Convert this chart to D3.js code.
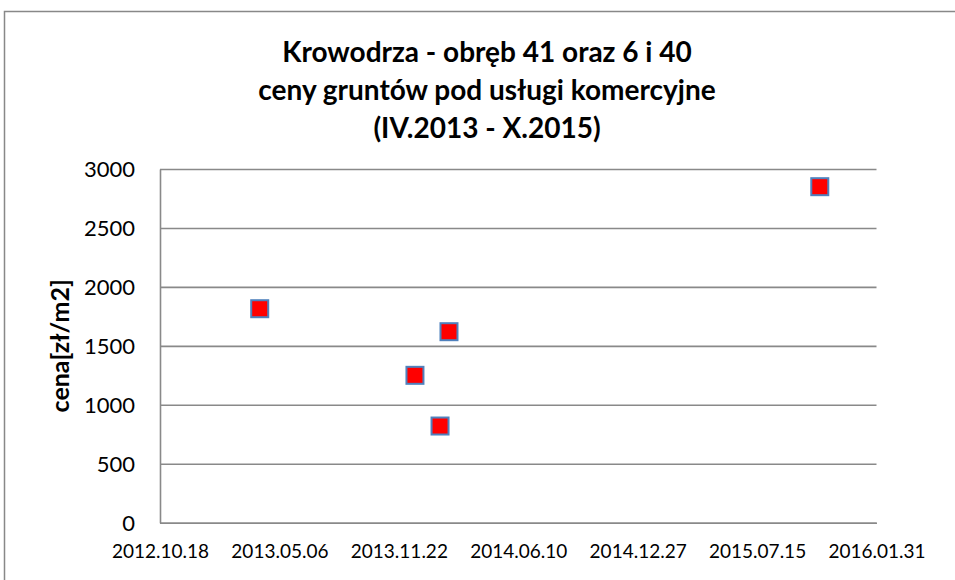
<!DOCTYPE html>
<html>
<head>
<meta charset="utf-8">
<script src="https://cdn.jsdelivr.net/npm/d3@7"></script>
<style>
    body { margin: 0; background: #fff; }
    .axis-label { font-family: Lato, "Open Sans", sans-serif; fill: #000; }
    .title { font-family: Lato, "Open Sans", sans-serif; font-weight: bold; fill: #000; }
</style>
</head>
<body>
<div id="chart-area"></div>
<script>

// Data (dates, prices in zl/m2)
var saleDates = ["2013.04.03", "2013.12.19", "2014.01.30", "2014.02.14", "2015.10.28"];
var salePrices = [1815, 1250, 820, 1620, 2850];

// Axis ticks
var xTickLabels = ["2012.10.18", "2013.05.06", "2013.11.22", "2014.06.10", "2014.12.27", "2015.07.15", "2016.01.31"];
var yTickValues = [0, 500, 1000, 1500, 2000, 2500, 3000];

var titleLines = ["Krowodrza - obręb 41 oraz 6 i 40", "ceny gruntów pod usługi komercyjne", "(IV.2013 - X.2015)"];
var yAxisTitle = "cena[zł/m2]";


/*
 * ScatterPlot - Object constructor function
 * @param _parentElement 	-- the HTML element in which to draw the visualization
 */

ScatterPlot = function(_parentElement){
    this.parentElement = _parentElement;
    this.initVis();
};

ScatterPlot.prototype.initVis = function(){
    var vis = this;

    vis.margin = { top: 169, right: 78.5, bottom: 57.3, left: 160 };
    vis.width = 955 - vis.margin.left - vis.margin.right;
    vis.height = 580 - vis.margin.top - vis.margin.bottom;

    vis.root = d3.select("#" + vis.parentElement).append("svg")
        .attr("width", 955)
        .attr("height", 580);

    // Chart border (runs off the right and bottom edge)
    vis.root.append("rect")
        .attr("x", 4.5)
        .attr("y", 11.5)
        .attr("width", 1000)
        .attr("height", 700)
        .attr("fill", "none")
        .attr("stroke", "#888")
        .attr("stroke-width", 1.5);

    // Title
    vis.root.append("text")
        .attr("class", "title")
        .attr("text-anchor", "middle")
        .style("font-size", "28px")
        .selectAll("tspan")
        .data(titleLines)
        .enter()
        .append("tspan")
        .attr("x", 487)
        .attr("y", function(d, i) { return 62 + i * 38; })
        .text(function(d) { return d; });

    vis.svg = vis.root.append("g")
        .attr("transform", "translate(" + vis.margin.left + "," + vis.margin.top + ")");

    vis.parseDate = d3.utcParse("%Y.%m.%d");

    vis.x = d3.scaleUtc()
        .domain([vis.parseDate(xTickLabels[0]), vis.parseDate(xTickLabels[xTickLabels.length - 1])])
        .range([0, vis.width]);
    vis.y = d3.scaleLinear()
        .domain([0, 3000])
        .range([vis.height, 0]);

    // Gridlines
    vis.yGrid = d3.axisLeft(vis.y)
        .tickValues(yTickValues)
        .tickSize(-vis.width)
        .tickFormat("");
    vis.svg.append("g")
        .attr("class", "grid")
        .call(vis.yGrid)
        .call(function(g) {
            g.select(".domain").remove();
            g.selectAll("line").attr("stroke", "#898989").attr("stroke-width", 1.6);
        });

    // Y axis
    vis.yAxis = d3.axisLeft(vis.y)
        .tickValues(yTickValues)
        .tickFormat(d3.format("d"))
        .tickSize(0)
        .tickPadding(25);
    vis.svg.append("g")
        .attr("class", "axis y-axis")
        .call(vis.yAxis)
        .call(function(g) {
            g.select(".domain").attr("stroke", "#898989").attr("stroke-width", 1.6);
            g.selectAll("text")
                .attr("class", "axis-label")
                .attr("dy", "0.36em")
                .style("font-size", "22px");
        });

    // X axis
    vis.xAxis = d3.axisBottom(vis.x)
        .tickValues(xTickLabels.map(vis.parseDate))
        .tickFormat(d3.utcFormat("%Y.%m.%d"))
        .tickSize(0)
        .tickPadding(22);
    vis.svg.append("g")
        .attr("class", "axis x-axis")
        .attr("transform", "translate(0," + vis.height + ")")
        .call(vis.xAxis)
        .call(function(g) {
            g.select(".domain").attr("stroke", "#898989").attr("stroke-width", 1.6);
            g.selectAll("text")
                .attr("class", "axis-label")
                .attr("dy", "0.71em")
                .style("font-size", "19px");
        });

    // Y-label
    vis.svg.append("text")
        .attr("class", "title")
        .attr("transform", "rotate(-90)")
        .attr("x", -vis.height / 2)
        .attr("y", 60 - vis.margin.left)
        .attr("dy", "0.35em")
        .style("text-anchor", "middle")
        .style("font-size", "25px")
        .text(yAxisTitle);

    vis.wrangleData();
};

ScatterPlot.prototype.wrangleData = function(){
    var vis = this;

    vis.displayData = saleDates.map(function(d, i) {
        return { date: vis.parseDate(d), price: salePrices[i] };
    });

    vis.updateVis();
};

ScatterPlot.prototype.updateVis = function(){
    var vis = this;
    var size = 17;

    vis.svg.selectAll(".marker")
        .data(vis.displayData)
        .enter()
        .append("rect")
        .attr("class", "marker")
        .attr("x", function(d) { return vis.x(d.date) - size / 2; })
        .attr("y", function(d) { return vis.y(d.price) - size / 2; })
        .attr("width", size)
        .attr("height", size)
        .attr("fill", "#ff0000")
        .attr("stroke", "#4f81bd")
        .attr("stroke-width", 2);
};

var chart = new ScatterPlot("chart-area");

</script>
</body>
</html>
